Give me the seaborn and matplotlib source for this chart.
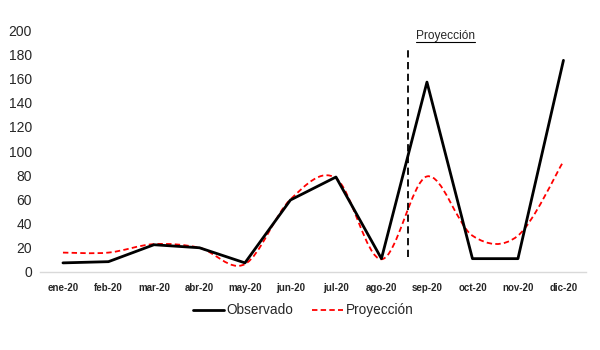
import numpy as np
import pandas as pd
import matplotlib
matplotlib.use("Agg")
import matplotlib.pyplot as plt
import seaborn as sns
from matplotlib.path import Path
from matplotlib.patches import PathPatch
from matplotlib.lines import Line2D

months = ["ene-20", "feb-20", "mar-20", "abr-20", "may-20", "jun-20",
          "jul-20", "ago-20", "sep-20", "oct-20", "nov-20", "dic-20"]
observado = [7.5, 8.5, 22.5, 20, 7.5, 59.5, 78.5, 11, 157, 11, 11, 175]
proyeccion = [16, 16, 23, 20, 6.5, 60, 77.5, 10.5, 79, 30, 30, 91.5]
y_ticks = [0, 20, 40, 60, 80, 100, 120, 140, 160, 180, 200]
split_label = "Proyección"

sns.set_theme(style="white")
plt.rcParams['font.family'] = ['Liberation Sans', 'DejaVu Sans']

fig = plt.figure(figsize=(6, 3.5), dpi=100)
ax = fig.add_axes([0.067, 0.223, 0.91, 0.691])

df = pd.DataFrame({"x": np.arange(len(months)), "obs": observado})
sns.lineplot(data=df, x="x", y="obs", ax=ax, color="black", lw=2.0, legend=False)

# Excel-style smoothed line (cubic Bezier through the data points)
xs = np.arange(len(months), dtype=float)
ys = np.array(proyeccion, dtype=float)
verts = [(xs[0], ys[0])]
codes = [Path.MOVETO]
n = len(xs)
for i in range(n - 1):
    p0 = max(i - 1, 0)
    p3 = min(i + 2, n - 1)
    c1 = (xs[i] + (xs[i + 1] - xs[p0]) / 6, ys[i] + (ys[i + 1] - ys[p0]) / 6)
    c2 = (xs[i + 1] - (xs[p3] - xs[i]) / 6, ys[i + 1] - (ys[p3] - ys[i]) / 6)
    verts += [c1, c2, (xs[i + 1], ys[i + 1])]
    codes += [Path.CURVE4] * 3
patch = PathPatch(Path(verts, codes), facecolor="none", edgecolor="#ff0000",
                  lw=1.3, linestyle=(0, (3, 1.8)), transform=ax.transData)
ax.add_patch(patch)

# vertical split line
ax.plot([7.59, 7.59], [12.5, 187], color="black", lw=1.3, linestyle=(0, (4, 2.5)))
txt = ax.text(8.4, 190.5, split_label, ha="center", va="bottom", fontsize=8.6)

ax.set_xlim(-0.5, 11.5)
ax.set_ylim(0, 200)
ax.set_yticks(y_ticks)
ax.set_yticklabels([str(v) for v in y_ticks], fontsize=10)
ax.set_xticks(xs)
ax.set_xticklabels(months, fontsize=7, fontweight="bold")
ax.set_xticks(np.arange(-0.5, 12, 1), minor=True)
ax.tick_params(axis="x", which="major", length=0, pad=8)
ax.tick_params(axis="x", which="minor", length=4, color="#d9d9d9", width=1, direction="out")
ax.tick_params(axis="y", length=0, pad=6)
ax.set_xlabel("")
ax.set_ylabel("")
for s in ["left", "right", "top"]:
    ax.spines[s].set_visible(False)
ax.spines["bottom"].set_color("#d9d9d9")
ax.spines["bottom"].set_linewidth(1)

# underline under the label
fig.canvas.draw()
bb = txt.get_window_extent(renderer=fig.canvas.get_renderer())
inv = ax.transData.inverted()
(x0, y0), (x1, _) = inv.transform([(bb.x0, bb.y0), (bb.x1, bb.y0)])
ax.plot([x0, x1], [y0 - 0.3, y0 - 0.3], color="black", lw=0.8, clip_on=False)

handles = [Line2D([], [], color="black", lw=2.0),
           Line2D([], [], color="#ff0000", lw=1.3, linestyle=(0, (3, 1.8)))]
fig.legend(handles, ["Observado", "Proyección"], loc="center",
           bbox_to_anchor=(0.505, 0.113), ncol=2, frameon=False, fontsize=9.8,
           handlelength=2.3, handletextpad=0.15, columnspacing=1.4)

fig.savefig("out.png", dpi=100)
